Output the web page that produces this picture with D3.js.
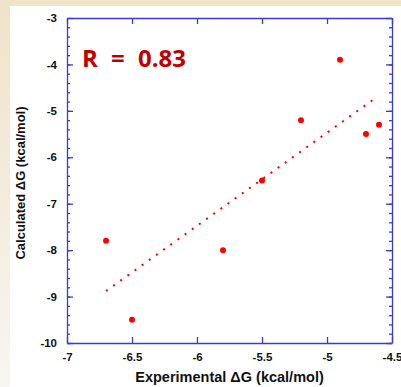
<!DOCTYPE html>
<html>
<head>
<meta charset="utf-8">
<script src="https://cdn.jsdelivr.net/npm/d3@7"></script>
<style>
  html, body { margin: 0; padding: 0; }
  body { width: 401px; height: 387px; overflow: hidden; }
</style>
</head>
<body>
<div id="chart"></div>
<script>
/////////////////////////////////////////////////
/* Data */
/////////////////////////////////////////////////
const experimental = [-6.7, -6.5, -5.8, -5.5, -5.2, -4.9, -4.7, -4.6];
const calculated   = [-7.8, -9.5, -8.0, -6.5, -5.2, -3.9, -5.5, -5.3];
const fitX = [-6.7, -4.64];
const fitY = [-8.88, -4.75];
const xTicks = [-7, -6.5, -6, -5.5, -5, -4.5];
const yTicks = [-3, -4, -5, -6, -7, -8, -9, -10];
const rLabel = "R = 0.83";

/////////////////////////////////////////////////
/* Layout */
/////////////////////////////////////////////////
const W = 401, H = 387;
const margin = {top: 18, right: 9, bottom: 44, left: 67};
const width = W - margin.left - margin.right,
      height = H - margin.top - margin.bottom;
const axisColor = "#3a3ad8";

const svg = d3.select("#chart").append("svg")
    .attr("width", W).attr("height", H);

// slide-like background
const defs = svg.append("defs");
const grad = defs.append("linearGradient").attr("id", "side")
    .attr("x1", 0).attr("y1", 0).attr("x2", 0).attr("y2", 1);
grad.append("stop").attr("offset", 0).attr("stop-color", "#efe3c8");
grad.append("stop").attr("offset", 1).attr("stop-color", "#f8f6f2");
svg.append("rect").attr("width", W).attr("height", H).attr("fill", "url(#side)");
svg.append("rect").attr("width", W).attr("height", 6).attr("fill", "#efe3c8");
svg.append("rect").attr("x", 10).attr("y", 6).attr("width", W - 10).attr("height", H - 6)
    .attr("fill", "#ffffff");

const g = svg.append("g")
    .attr("transform", "translate(" + margin.left + "," + margin.top + ")");

const x = d3.scaleLinear().domain([-7, -4.5]).range([0, width]);
const y = d3.scaleLinear().domain([-10, -3]).range([height, 0]);

// minor y ticks every 0.2
const yMinor = d3.range(-10, -3.0001, 0.2).map(v => +v.toFixed(1));

// plain hyphen-minus like the original
const fmt = d => String(d);

function styleAxis(sel) {
    sel.select(".domain").attr("stroke", axisColor).attr("stroke-width", 1.3);
    sel.selectAll(".tick line").attr("stroke", axisColor).attr("stroke-width", 1.3);
    sel.selectAll("text")
        .attr("font-family", "Liberation Sans, Arial, sans-serif")
        .attr("font-weight", "bold").attr("font-size", 11.5).attr("fill", "#111");
}

// minor ticks (left & right)
g.append("g").call(d3.axisLeft(y).tickValues(yMinor).tickSize(-3).tickFormat(""))
    .call(s => { s.select(".domain").remove(); s.selectAll("line").attr("stroke", axisColor).attr("stroke-width", 1.3); });
g.append("g").attr("transform", "translate(" + width + ",0)")
    .call(d3.axisRight(y).tickValues(yMinor).tickSize(-3).tickFormat(""))
    .call(s => { s.select(".domain").remove(); s.selectAll("line").attr("stroke", axisColor).attr("stroke-width", 1.3); });

// major axes
g.append("g").call(d3.axisLeft(y).tickValues(yTicks).tickSize(-6).tickSizeOuter(0)
        .tickPadding(10).tickFormat(fmt))
    .call(styleAxis);
g.append("g").attr("transform", "translate(" + width + ",0)")
    .call(d3.axisRight(y).tickValues(yTicks).tickSize(-6).tickSizeOuter(0).tickFormat(""))
    .call(styleAxis);
g.append("g").attr("transform", "translate(0," + height + ")")
    .call(d3.axisBottom(x).tickValues(xTicks).tickSize(-6).tickSizeOuter(0)
        .tickPadding(10).tickFormat(fmt))
    .call(styleAxis);
g.append("g")
    .call(d3.axisTop(x).tickValues(xTicks).tickSize(-6).tickSizeOuter(0).tickFormat(""))
    .call(styleAxis);

// fit line (dotted)
g.append("path")
    .datum(d3.zip(fitX, fitY))
    .attr("d", d3.line().x(d => x(d[0])).y(d => y(d[1])))
    .attr("fill", "none")
    .attr("stroke", "#ee0000")
    .attr("stroke-width", 2)
    .attr("stroke-dasharray", "2,6.8");

// points
g.selectAll(".pt")
    .data(d3.zip(experimental, calculated))
    .enter().append("circle")
    .attr("class", "pt")
    .attr("cx", d => x(d[0]))
    .attr("cy", d => y(d[1]))
    .attr("r", 3)
    .attr("fill", "#ff0000");

// R label
g.append("text")
    .attr("x", 15).attr("y", 49)
    .attr("font-family", "Open Sans, sans-serif")
    .attr("font-weight", "bold").attr("font-size", 24)
    .attr("fill", "#c00000")
    .attr("word-spacing", 7)
    .text(rLabel);

// axis titles
svg.append("text")
    .attr("x", margin.left + width / 2).attr("y", 382)
    .attr("text-anchor", "middle")
    .attr("font-family", "Liberation Sans, Arial, sans-serif")
    .attr("font-weight", "bold").attr("font-size", 14.5)
    .attr("fill", "#111")
    .text("Experimental \u0394G (kcal/mol)");

svg.append("text")
    .attr("transform", "translate(25," + 183 + ") rotate(-90)")
    .attr("text-anchor", "middle")
    .attr("font-family", "Liberation Sans, Arial, sans-serif")
    .attr("font-weight", "bold").attr("font-size", 13)
    .attr("fill", "#111")
    .text("Calculated \u0394G (kcal/mol)");
</script>
</body>
</html>
